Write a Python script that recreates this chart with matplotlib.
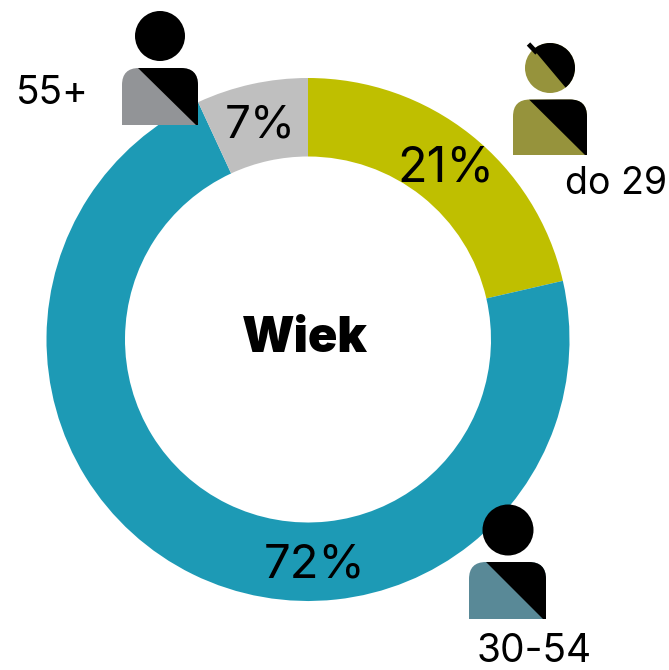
import matplotlib
matplotlib.use("Agg")
import matplotlib.pyplot as plt
import numpy as np
from matplotlib.patches import Circle, PathPatch, Polygon
from matplotlib.path import Path

# Slice sizes
drawn_shares = [21.4, 71.7, 6.9]
share_labels = ["21%", "72%", "7%"]
age_groups = ["do 29", "30-54", "55+"]
slice_colors = ["#bfbf00", "#1d9ab5", "#bfbfbf"]
icon_colors = ["#96933c", "#598997", "#929497"]
center_title = "Wiek"

W, H = 669, 670
fig = plt.figure(figsize=(W / 100, H / 100), dpi=100)
ax = fig.add_axes([0, 0, 1, 1])

# The y axis is inverted (pixel-like), so increasing angle runs clockwise on screen
ax.pie(drawn_shares, colors=slice_colors, startangle=270, counterclock=True,
       radius=261.5, center=(308, 339.5), wedgeprops=dict(width=78.5, linewidth=0))
ax.set_xlim(0, W)
ax.set_ylim(H, 0)
ax.set_aspect("equal")
ax.axis("off")


def body_path(x0, x1, y0, y1, r=17):
    verts = [(x0, y1), (x0, y0 + r), (x0, y0), (x0 + r, y0), (x1 - r, y0), (x1, y0),
             (x1, y0 + r), (x1, y1), (x0, y1)]
    codes = [Path.MOVETO, Path.LINETO, Path.CURVE3, Path.CURVE3, Path.LINETO,
             Path.CURVE3, Path.CURVE3, Path.LINETO, Path.CLOSEPOLY]
    return Path(verts, codes)


def person(hx, hy, hr, x0, x1, y0, y1, d0, d1, color, split_head=False):
    z = 5
    body = body_path(x0, x1, y0, y1)
    ax.add_patch(PathPatch(body, fc=color, ec="none", zorder=z))
    black = Polygon([(d0, y0), (x1 + 1, y0 - 1), (x1 + 1, y1), (d1, y1)], fc="black", ec="none",
                    zorder=z + 1)
    ax.add_patch(black)
    black.set_clip_path(PathPatch(body, transform=ax.transData))
    if split_head:
        ax.add_patch(Circle((hx, hy), hr, fc=color, ec="none", zorder=z))
        top = Polygon([(hx - 21, hy - 24), (hx + 21, hy + 26), (hx + 40, hy + 26), (hx + 40, hy - 40),
                       (hx - 21, hy - 40)], fc="black", ec="none", zorder=z + 1)
        clip = Circle((hx, hy), hr, transform=ax.transData)
        ax.add_patch(top)
        top.set_clip_path(clip)
        ax.plot([hx - 21.5, hx - 13], [hy - 24, hy - 15], color="black", lw=3.4,
                solid_capstyle="butt", zorder=z + 2)
    else:
        ax.add_patch(Circle((hx, hy), hr, fc="black", ec="none", zorder=z))


person(550, 68, 25, 513, 587, 99.5, 155, 529, 585, icon_colors[0], split_head=True)
person(508, 530, 25.5, 469, 546, 562, 619, 486, 543, icon_colors[1])
person(160, 36, 25, 122, 198, 68, 125, 138, 196, icon_colors[2])

font = "Inter"
ax.text(446, 168, share_labels[0], fontsize=35, family=font, weight="regular",
        ha="center", va="center", color="black", zorder=6)
ax.text(315, 565, share_labels[1], fontsize=34, family=font, weight="regular",
        ha="center", va="center", color="black", zorder=6)
ax.text(260, 125, share_labels[2], fontsize=33, family=font, weight="regular",
        ha="center", va="center", color="black", zorder=6)
ax.text(616, 184, age_groups[0], fontsize=27, family=font, weight="regular",
        ha="center", va="center", color="black", zorder=6)
ax.text(534, 651, age_groups[1], fontsize=28, family=font, weight="regular",
        ha="center", va="center", color="black", zorder=6)
ax.text(52, 94, age_groups[2], fontsize=28, family=font, weight="regular",
        ha="center", va="center", color="black", zorder=6)
ax.text(305, 339, center_title, fontsize=35, family=font, weight="black",
        ha="center", va="center", color="black", zorder=6)

fig.savefig("out.png", dpi=100, facecolor="white")
